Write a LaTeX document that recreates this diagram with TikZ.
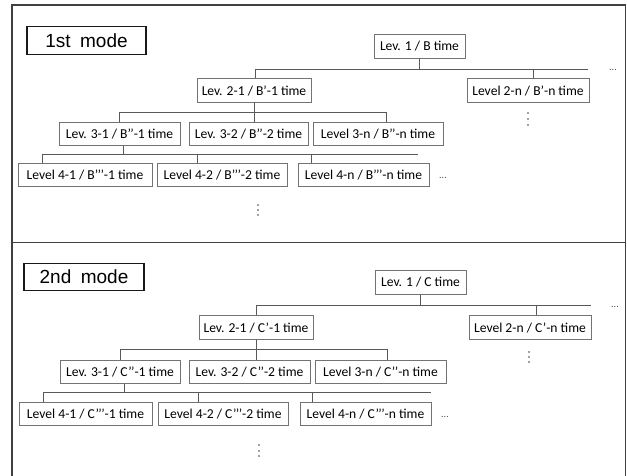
\documentclass[tikz,border=0pt]{standalone}
\usepackage{fontspec}
\setmainfont{Carlito}
\newfontfamily\modefont{Liberation Sans}
\newcommand{\twopr}{’\kern-0.04em’}
\newcommand{\threepr}{’\kern-0.04em’\kern-0.04em’}
\begin{document}
\begin{tikzpicture}[x=1pt,y=-1pt,
  box/.style={draw=black!55,line width=0.9pt,fill=white,inner sep=0pt,
    minimum height=23.5pt,font=\fontsize{13.6}{15}\selectfont,text=black},
  modebox/.style={draw=black!90,line width=1.3pt,inner sep=0pt,
    minimum height=27.5pt,font=\modefont\fontsize{19}{21}\selectfont},
  conn/.style={draw=black!65,line width=0.9pt},
  frame/.style={draw=black!75,line width=1.8pt},
  hdots/.style={inner sep=0pt,font=\fontsize{10}{10}\selectfont,text=black!70},
  vdot/.style={fill=black!75,draw=none}]
\useasboundingbox (0,0) rectangle (627,476);
\begin{scope}
\clip (0,0) rectangle (627,476);
\draw[frame] (12,5) rectangle (625.5,490);
\draw[frame] (12,242.5) -- (625.5,242.5);
\end{scope}

% ---------- 1st mode ----------
\node[modebox,minimum width=119pt] (m1) at (86.5,40.5) {1st\hspace{0.5em}mode};
\node[box,minimum width=91pt]  (L1B)  at (419.5,46.5) {Lev. 1 / B time};
\node[box,minimum width=114pt] (L21B) at (254,90.5) {Lev. 2-1 / B’-1 time};
\node[box,minimum width=122pt] (L2nB) at (528,90.5) {Level 2-n / B’-n time};
\node[box,minimum width=121pt] (L31B) at (119.5,134) {Lev. 3-1 / B\twopr-1 time};
\node[box,minimum width=119pt] (L32B) at (248.5,134) {Lev. 3-2 / B\twopr-2 time};
\node[box,minimum width=130pt] (L3nB) at (378,134) {Level 3-n / B\twopr-n time};
\node[box,minimum width=134pt] (L41B) at (85,175) {Level 4-1 / B\threepr-1 time};
\node[box,minimum width=130pt] (L42B) at (222,175) {Level 4-2 / B\threepr-2 time};
\node[box,minimum width=131pt] (L4nB) at (363.5,175) {Level 4-n / B\threepr-n time};

\coordinate (b2lB) at (255,69);
\coordinate (b2rB) at (588,69);
\coordinate (b2nB) at (533,69);
\coordinate (b3lB) at (119,112);
\coordinate (b3rB) at (386,112);
\coordinate (b4lB) at (42,154);
\coordinate (b4rB) at (418,154);
\coordinate (b4sB) at (123,154);
\coordinate (b42B) at (197,154);
\coordinate (b4nB) at (311,154);

\draw[conn] (L1B.south) -- (L1B.south |- b2lB);
\draw[conn] (b2lB) -- (b2rB);
\draw[conn] (b2lB) -- (L21B.north -| b2lB);
\draw[conn] (b2nB) -- (L2nB.north -| b2nB);
\draw[conn] (L21B.south) -- (L32B.north -| L21B.south);
\draw[conn] (b3lB) -- (b3rB);
\draw[conn] (b3lB) -- (L31B.north -| b3lB);
\draw[conn] (b3rB) -- (L3nB.north -| b3rB);
\draw[conn] (L31B.south -| b4sB) -- (b4sB);
\draw[conn] (b4lB) -- (b4rB);
\draw[conn] (b4lB) -- (L41B.north -| b4lB);
\draw[conn] (b42B) -- (L42B.north -| b42B);
\draw[conn] (b4nB) -- (L4nB.north -| b4nB);

\node[hdots] (h1B) at (613,70) {...};
\node[hdots] (h4B) at (443,178) {...};
\foreach \yy in {113,119,125} \fill[vdot] (528,\yy) circle (0.9pt);
\foreach \yy in {205,210,215} \fill[vdot] (258,\yy) circle (0.9pt);

% ---------- 2nd mode ----------
\node[modebox,minimum width=120pt] (m2) at (84,277) {2nd\hspace{0.5em}mode};
\node[box,minimum width=91pt]  (L1C)  at (420.5,282.5) {Lev. 1 / C time};
\node[box,minimum width=114pt] (L21C) at (256,327.5) {Lev. 2-1 / C’-1 time};
\node[box,minimum width=122pt] (L2nC) at (530,327.5) {Level 2-n / C’-n time};
\node[box,minimum width=120pt] (L31C) at (120,372) {Lev. 3-1 / C\twopr-1 time};
\node[box,minimum width=121pt] (L32C) at (249.5,372) {Lev. 3-2 / C\twopr-2 time};
\node[box,minimum width=131pt] (L3nC) at (380.5,372) {Level 3-n / C\twopr-n time};
\node[box,minimum width=133pt] (L41C) at (85.5,414) {Level 4-1 / C\threepr-1 time};
\node[box,minimum width=130pt] (L42C) at (223,414) {Level 4-2 / C\threepr-2 time};
\node[box,minimum width=131pt] (L4nC) at (365.5,414) {Level 4-n / C\threepr-n time};

\coordinate (b2lC) at (256,305);
\coordinate (b2rC) at (591,305);
\coordinate (b2nC) at (536,305);
\coordinate (b3lC) at (120,349);
\coordinate (b3rC) at (387,349);
\coordinate (b4lC) at (43,392);
\coordinate (b4rC) at (431,392);
\coordinate (b4sC) at (124,392);
\coordinate (b42C) at (198,392);
\coordinate (b4nC) at (312,392);

\draw[conn] (L1C.south) -- (L1C.south |- b2lC);
\draw[conn] (b2lC) -- (b2rC);
\draw[conn] (b2lC) -- (L21C.north -| b2lC);
\draw[conn] (b2nC) -- (L2nC.north -| b2nC);
\draw[conn] (L21C.south) -- (L32C.north -| L21C.south);
\draw[conn] (b3lC) -- (b3rC);
\draw[conn] (b3lC) -- (L31C.north -| b3lC);
\draw[conn] (b3rC) -- (L3nC.north -| b3rC);
\draw[conn] (L31C.south -| b4sC) -- (b4sC);
\draw[conn] (b4lC) -- (b4rC);
\draw[conn] (b4lC) -- (L41C.north -| b4lC);
\draw[conn] (b42C) -- (L42C.north -| b42C);
\draw[conn] (b4nC) -- (L4nC.north -| b4nC);

\node[hdots] (h1C) at (615,307) {...};
\node[hdots] (h4C) at (445,417) {...};
\foreach \yy in {352,357,362} \fill[vdot] (529,\yy) circle (0.9pt);
\foreach \yy in {445,451,456} \fill[vdot] (259,\yy) circle (0.9pt);
\end{tikzpicture}
\end{document}
